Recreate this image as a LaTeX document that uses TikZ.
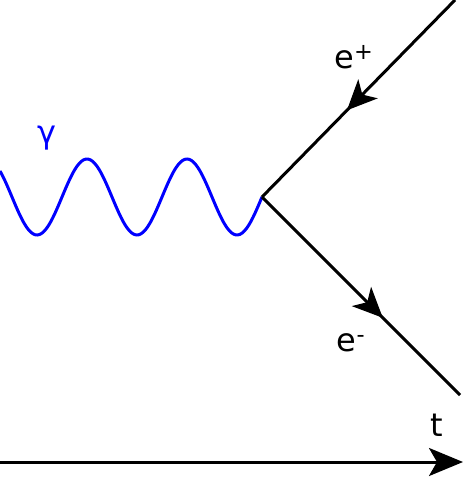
\documentclass[tikz,border=0pt]{standalone}
\usepackage{fontspec}
\setmainfont{DejaVu Sans}
\usetikzlibrary{arrows.meta,decorations.markings}

\begin{document}
\begin{tikzpicture}[
    x=1pt, y=-1pt,
    fermion/.style={line width=3pt, postaction={decorate},
        decoration={markings, mark=at position #1 with {\arrow{Stealth[length=30pt, width=27pt, inset=8pt]}}}},
    photon/.style={line width=3pt, blue},
    lbl/.style={font=\fontsize{32}{32}\selectfont, inner sep=0pt},
    axis/.style={line width=3pt, -{Stealth[length=34pt, width=28pt, inset=8pt]}}
]
  \useasboundingbox (0,0) rectangle (472,480);

  % Points
  \coordinate (v) at (262,197);
  \coordinate (pin) at (455,0);
  \coordinate (eout) at (460,395);
  \coordinate (t0) at (0,462);
  \coordinate (t1) at (463,462);

  % Lines
  \draw [photon] plot [domain=0:262, samples=120, smooth] (\x, {197-38*cos(3.6*(\x+13))});
  \draw [fermion=0.56] (pin) -- (v);
  \draw [fermion=0.61] (v) -- (eout);
  \draw [axis] (t0) -- (t1);

  % Labels
  \node (gamma) [lbl, text=blue] at (47,138) {γ};
  \node (posit) [lbl] at (354,57) {e\textsuperscript{+}};
  \node (elec) [lbl] at (351,343) {e\textsuperscript{-}};
  \node (time) [lbl] at (437,425) {t};
\end{tikzpicture}
\end{document}
